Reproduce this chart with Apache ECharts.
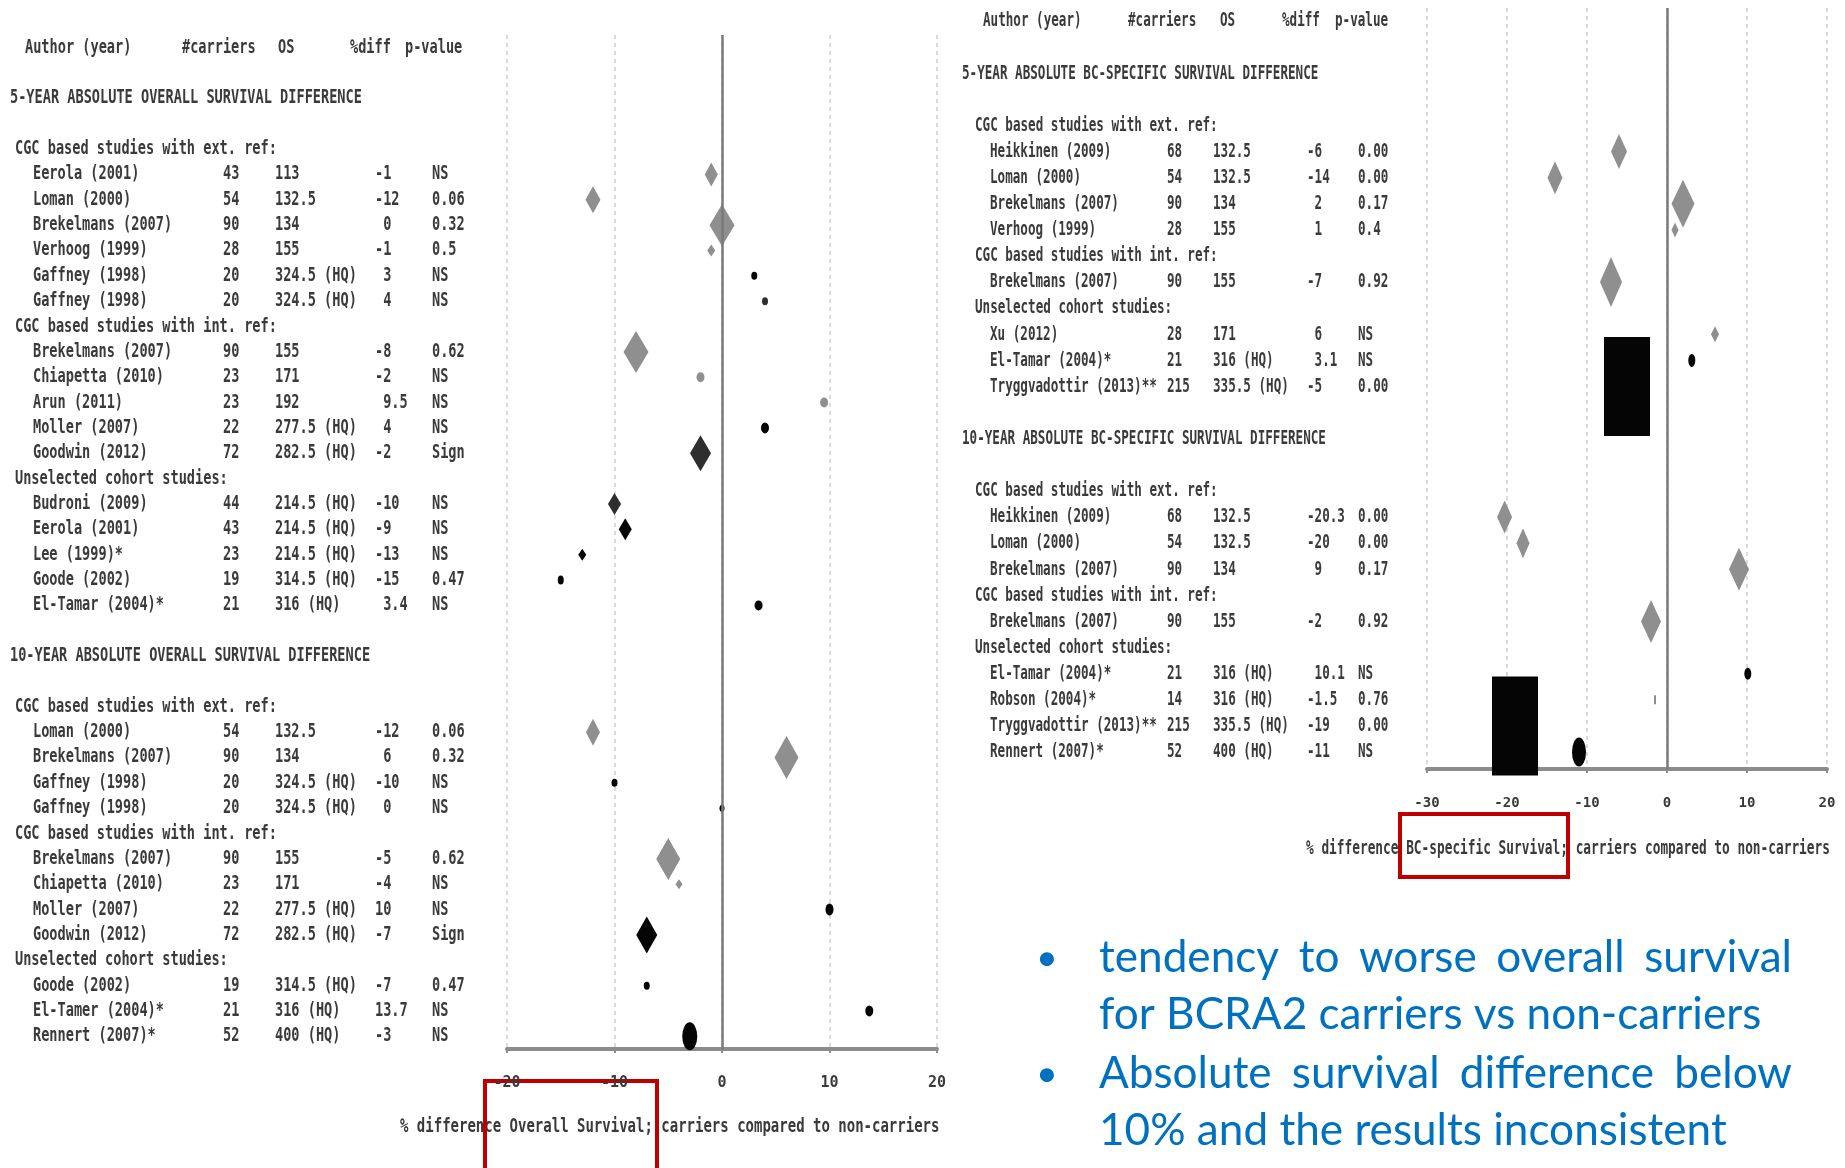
<!DOCTYPE html>
<html><head><meta charset="utf-8">
<script src="https://cdn.jsdelivr.net/npm/echarts@6/dist/echarts.min.js"></script>
<style>html,body{margin:0;padding:0;background:#fff}#c{width:1845px;height:1168px}</style>
</head><body><div id="c"></div>
<script>
const _ = null;
// ===== DATA: left panel (overall survival) — one entry per table row =====
const colHeaders = ['Author (year)', '#carriers', 'OS', '%diff', 'p-value'];
const leftRows = ['', '', '5-YEAR ABSOLUTE OVERALL SURVIVAL DIFFERENCE', '',
  'CGC based studies with ext. ref:', 'Eerola (2001)', 'Loman (2000)', 'Brekelmans (2007)', 'Verhoog (1999)', 'Gaffney (1998)', 'Gaffney (1998)',
  'CGC based studies with int. ref:', 'Brekelmans (2007)', 'Chiapetta (2010)', 'Arun (2011)', 'Moller (2007)', 'Goodwin (2012)',
  'Unselected cohort studies:', 'Budroni (2009)', 'Eerola (2001)', 'Lee (1999)*', 'Goode (2002)', 'El-Tamar (2004)*',
  '', '10-YEAR ABSOLUTE OVERALL SURVIVAL DIFFERENCE', '',
  'CGC based studies with ext. ref:', 'Loman (2000)', 'Brekelmans (2007)', 'Gaffney (1998)', 'Gaffney (1998)',
  'CGC based studies with int. ref:', 'Brekelmans (2007)', 'Chiapetta (2010)', 'Moller (2007)', 'Goodwin (2012)',
  'Unselected cohort studies:', 'Goode (2002)', 'El-Tamer (2004)*', 'Rennert (2007)*'];
const leftCarriers = [_,_,_,_,_, 43,54,90,28,20,20, _, 90,23,23,22,72, _, 44,43,23,19,21, _,_,_,_, 54,90,20,20, _, 90,23,22,72, _, 19,21,52];
const leftOS = [_,_,_,_,_, '113','132.5','134','155','324.5 (HQ)','324.5 (HQ)', _, '155','171','192','277.5 (HQ)','282.5 (HQ)', _,
  '214.5 (HQ)','214.5 (HQ)','214.5 (HQ)','314.5 (HQ)','316 (HQ)', _,_,_,_, '132.5','134','324.5 (HQ)','324.5 (HQ)', _,
  '155','171','277.5 (HQ)','282.5 (HQ)', _, '314.5 (HQ)','316 (HQ)','400 (HQ)'];
const leftDiffText = [_,_,_,_,_, '-1','-12',' 0','-1',' 3',' 4', _, '-8','-2',' 9.5',' 4','-2', _, '-10','-9','-13','-15',' 3.4', _,_,_,_,
  '-12',' 6','-10',' 0', _, '-5','-4','10','-7', _, '-7','13.7','-3'];
const leftEst = [_,_,_,_,_, -1,-12,0,-1,3,4, _, -8,-2,9.5,4,-2, _, -10,-9,-13,-15,3.4, _,_,_,_, -12,6,-10,0, _, -5,-4,10,-7, _, -7,13.7,-3];
const leftP = [_,_,_,_,_, 'NS','0.06','0.32','0.5','NS','NS', _, '0.62','NS','NS','NS','Sign', _, 'NS','NS','NS','0.47','NS', _,_,_,_,
  '0.06','0.32','NS','NS', _, '0.62','NS','NS','Sign', _, '0.47','NS','NS'];
const leftTicks = [-20, -10, 0, 10, 20];

// ===== DATA: right panel (BC-specific survival) =====
const rightRows = ['', '', '5-YEAR ABSOLUTE BC-SPECIFIC SURVIVAL DIFFERENCE', '',
  'CGC based studies with ext. ref:', 'Heikkinen (2009)', 'Loman (2000)', 'Brekelmans (2007)', 'Verhoog (1999)',
  'CGC based studies with int. ref:', 'Brekelmans (2007)',
  'Unselected cohort studies:', 'Xu (2012)', 'El-Tamar (2004)*', 'Tryggvadottir (2013)**',
  '', '10-YEAR ABSOLUTE BC-SPECIFIC SURVIVAL DIFFERENCE', '',
  'CGC based studies with ext. ref:', 'Heikkinen (2009)', 'Loman (2000)', 'Brekelmans (2007)',
  'CGC based studies with int. ref:', 'Brekelmans (2007)',
  'Unselected cohort studies:', 'El-Tamar (2004)*', 'Robson (2004)*', 'Tryggvadottir (2013)**', 'Rennert (2007)*'];
const rightCarriers = [_,_,_,_,_, 68,54,90,28, _, 90, _, 28,21,215, _,_,_,_, 68,54,90, _, 90, _, 21,14,215,52];
const rightOS = [_,_,_,_,_, '132.5','132.5','134','155', _, '155', _, '171','316 (HQ)','335.5 (HQ)', _,_,_,_,
  '132.5','132.5','134', _, '155', _, '316 (HQ)','316 (HQ)','335.5 (HQ)','400 (HQ)'];
const rightDiffText = [_,_,_,_,_, '-6','-14',' 2',' 1', _, '-7', _, ' 6',' 3.1','-5', _,_,_,_,
  '-20.3','-20',' 9', _, '-2', _, ' 10.1','-1.5','-19','-11'];
const rightEst = [_,_,_,_,_, -6,-14,2,1, _, -7, _, 6,3.1,-5, _,_,_,_, -20.3,-18,9, _, -2, _, 10.1,-1.5,-19,-11];
const rightP = [_,_,_,_,_, '0.00','0.00','0.17','0.4', _, '0.92', _, 'NS','NS','0.00', _,_,_,_,
  '0.00','0.00','0.17', _, '0.92', _, 'NS','0.76','0.00','NS'];
const rightTicks = [-30, -20, -10, 0, 10, 20];

const leftAxisTitle = '% difference Overall Survival; carriers compared to non-carriers';
const rightAxisTitle = '% difference BC-specific Survival; carriers compared to non-carriers';
const bulletLines = ['tendency to worse overall survival', 'for BCRA2 carriers vs non-carriers',
  'Absolute survival difference below', '10% and the results inconsistent'];

// ===== STYLES (marker shape, width, height, tone) in study order =====
const leftMarks = [
  ['diamond',13,24,'g'],['diamond',15,27,'g'],['diamond',25,42,'g'],['diamond',8,12,'g'],['circle',6,8,'k'],['circle',6,8,'d'],
  ['diamond',25,42,'g'],['circle',8,10,'g'],['circle',8,10,'g'],['circle',8,11,'k'],['diamond',21,36,'d'],
  ['diamond',13,22,'d'],['diamond',13,22,'k'],['diamond',8,12,'k'],['circle',6,9,'k'],['circle',8,10,'k'],
  ['diamond',14,27,'g'],['diamond',24,43,'g'],['circle',6,8,'k'],['circle',5,7,'k'],
  ['diamond',24,42,'g'],['diamond',7,10,'g'],['circle',8,12,'k'],['diamond',21,37,'k'],
  ['circle',6,8,'k'],['circle',8,11,'k'],['circle',15,28,'k']];
const rightMarks = [
  ['diamond',16,35,'g'],['diamond',15,33,'g'],['diamond',23,48,'g'],['diamond',7,15,'g'],['diamond',22,50,'g'],
  ['diamond',8,16,'g'],['circle',7,13,'k'],['rect',46,99,'k'],
  ['diamond',15,33,'g'],['diamond',13,30,'g'],['diamond',20,43,'g'],['diamond',20,43,'g'],
  ['circle',7,12,'k'],['rect',2,9,'g'],['rect',46,99,'k'],['circle',14,29,'k']];
const tones = {g:'#8f8f8f', d:'#2e2e2e', k:'#050505'};
const MONO = 'DejaVu Sans Mono';
const TXT = '#3a3a3a';
const leftCols = {section:10, group:15, name:33, carriers:223, os:275, diff:375, p:432, head:[25,182,278,350,405]};
const rightCols = {section:12, group:25, name:40, carriers:217, os:263, diff:357, p:408, head:[33,178,270,332,385]};

function tableRender(rows, cols, fs, sy, carriers, os, diffText, pv) {
  return function (params, api) {
    const i = params.dataIndex;
    const yPix = api.coord([0, i])[1];
    const X = v => api.coord([v, i])[0];
    const children = [];
    const add = (x, s) => {
      if (s == null || s === '') return;
      children.push({type:'text', x: X(x), y: yPix, scaleY: sy,
        style:{text:String(s), x:0, y:0, fontSize:fs, fontFamily:MONO, fontWeight:'bold', fill:TXT, align:'left', verticalAlign:'middle'}});
    };
    if (i === 0) colHeaders.forEach((h, k) => add(cols.head[k], h));
    else if (carriers[i] != null) {
      add(cols.name, rows[i]); add(cols.carriers, carriers[i]); add(cols.os, os[i]); add(cols.diff, diffText[i]); add(cols.p, pv[i]);
    } else if (/^\d/.test(rows[i])) add(cols.section, rows[i]);
    else add(cols.group, rows[i]);
    return {type:'group', children};
  };
}
function markerData(est, marks) {
  const out = []; let k = 0;
  est.forEach((v, i) => {
    if (v == null) return;
    const m = marks[k++];
    out.push({value:[v, i], symbol:m[0], symbolSize:[m[1], m[2]], itemStyle:{color:tones[m[3]], opacity:1}});
  });
  return out;
}
// row axis: row index as position, half a row of margin above; bottom margin as in the original
const rowAxis = (g, lo, hi) => ({gridIndex:g, type:'value', min:lo, max:hi, inverse:true, show:false});
const plotX = (g, ticks, fs) => ({
  gridIndex:g, type:'value', min:ticks[0], max:ticks[ticks.length-1], interval:10,
  axisLine:{show:true, onZero:false, lineStyle:{color:'#8c8c8c', width:4}},
  axisTick:{show:true, length:4, lineStyle:{color:'#8c8c8c', width:2}},
  axisLabel:{margin:27, fontFamily:MONO, fontWeight:'bold', fontSize:fs, color:TXT},
  splitLine:{show:true, lineStyle:{type:[4,4], color:'#cfcfcf', width:1.5}}
});
const zeroLine = {silent:true, symbol:'none', label:{show:false}, lineStyle:{color:'#7a7a7a', width:2.5, type:'solid'}, data:[{xAxis:0}]};

// ===== bullet text layout (justified like the slide) =====
const BLUE = '#0070C0', FONT = 'Lato';
const ctx = document.createElement('canvas').getContext('2d');
const measure = (t, fs) => { ctx.font = fs + 'px ' + FONT; return ctx.measureText(t).width; };
const tL = 1099, tR = 1792, lineY = [958, 1015, 1074, 1131];
const bfs = 100 * 628 / measure(bulletLines[3], 100);
const graphics = [];
bulletLines.forEach((line, li) => {
  const justify = (li === 0 || li === 2);
  if (justify) {
    const words = line.split(' ');
    const ws = words.map(w => measure(w, bfs));
    const gap = (tR - tL - ws.reduce((a, b) => a + b, 0)) / (words.length - 1);
    let x = tL;
    words.forEach((w, k) => {
      graphics.push({type:'text', x, y:lineY[li], style:{text:w, fontSize:bfs, fontFamily:FONT, fill:BLUE, verticalAlign:'middle'}});
      x += ws[k] + gap;
    });
    graphics.push({type:'text', x:1036, y:lineY[li], style:{text:'•', fontSize:bfs * 0.85, fontFamily:FONT, fill:BLUE, verticalAlign:'middle'}});
  } else {
    graphics.push({type:'text', x:tL, y:lineY[li], style:{text:line, fontSize:bfs, fontFamily:FONT, fill:BLUE, verticalAlign:'middle'}});
  }
});
graphics.push({type:'text', x:400, y:1127, scaleY:1.4, style:{text:leftAxisTitle, fontSize:14, fontFamily:MONO, fontWeight:'bold', fill:TXT, verticalAlign:'middle'}});
graphics.push({type:'text', x:1306, y:849, scaleY:1.5, style:{text:rightAxisTitle, fontSize:12.8, fontFamily:MONO, fontWeight:'bold', fill:TXT, verticalAlign:'middle'}});
graphics.push({type:'rect', shape:{x:485, y:1081, width:172, height:100}, style:{fill:'none', stroke:'#C00000', lineWidth:4}});
graphics.push({type:'rect', shape:{x:1400, y:814, width:168, height:63}, style:{fill:'none', stroke:'#C00000', lineWidth:4}});

const chart = echarts.init(document.getElementById('c'), null, {renderer:'canvas'});
chart.setOption({
  animation:false,
  backgroundColor:'#fff',
  grid:[
    {left:0, top:35, width:500, height:1014},
    {left:507, top:35, width:430, height:1014},
    {left:950, top:8, width:470, height:761},
    {left:1427, top:8, width:400, height:761}
  ],
  xAxis:[
    {gridIndex:0, type:'value', min:0, max:500, show:false},
    plotX(1, leftTicks, 15),
    {gridIndex:2, type:'value', min:0, max:470, show:false},
    plotX(3, rightTicks, 14)
  ],
  yAxis:[rowAxis(0, -0.5, 39.5), rowAxis(1, -0.5, 39.5), rowAxis(2, -0.5, 28.65), rowAxis(3, -0.5, 28.65)],
  series:[
    {type:'custom', xAxisIndex:0, yAxisIndex:0, silent:true, clip:false, encode:{x:0, y:1},
      data:leftRows.map((r, i) => [0, i]),
      renderItem:tableRender(leftRows, leftCols, 13.6, 1.42, leftCarriers, leftOS, leftDiffText, leftP)},
    {type:'scatter', xAxisIndex:1, yAxisIndex:1, silent:true, z:3, data:markerData(leftEst, leftMarks), markLine:zeroLine},
    {type:'custom', xAxisIndex:2, yAxisIndex:2, silent:true, clip:false, encode:{x:0, y:1},
      data:rightRows.map((r, i) => [0, i]),
      renderItem:tableRender(rightRows, rightCols, 12.6, 1.6, rightCarriers, rightOS, rightDiffText, rightP)},
    {type:'scatter', xAxisIndex:3, yAxisIndex:3, silent:true, z:3, data:markerData(rightEst, rightMarks), markLine:zeroLine}
  ],
  graphic:graphics
});
</script>
</body></html>
